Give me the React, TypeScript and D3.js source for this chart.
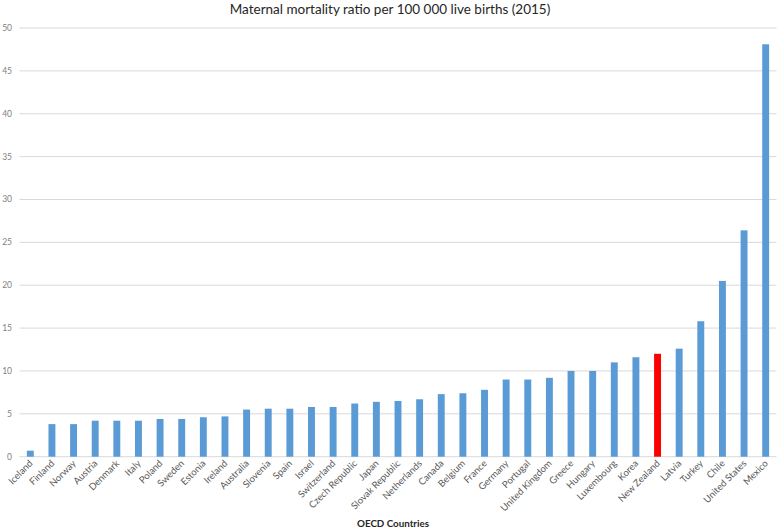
import React from "react";
import * as d3 from "d3";

const countries = ["Iceland","Finland","Norway","Austria","Denmark","Italy","Poland","Sweden","Estonia","Ireland","Australia","Slovenia","Spain","Israel","Switzerland","Czech Republic","Japan","Slovak Republic","Netherlands","Canada","Belgium","France","Germany","Portugal","United Kingdom","Greece","Hungary","Luxembourg","Korea","New Zealand","Latvia","Turkey","Chile","United States","Mexico"];
const values = [0.7,3.8,3.8,4.2,4.2,4.2,4.4,4.4,4.6,4.7,5.5,5.6,5.6,5.8,5.8,6.2,6.4,6.5,6.7,7.3,7.4,7.8,9.0,9.0,9.2,10.0,10.0,11.0,11.6,12.0,12.6,15.8,20.5,26.4,48.1];
const highlight = ["New Zealand"];
const yTicks = [0,5,10,15,20,25,30,35,40,45,50];
const title = "Maternal mortality ratio per 100 000 live births (2015)";
const xTitle = "OECD Countries";

const W = 778, H = 529;
const FONT = "Lato, 'Open Sans', sans-serif";

export default function App() {
  const x = d3.scaleBand<string>().domain(countries).range([19.5, 776.5]).paddingInner(0.68).paddingOuter(0.34);
  const y = d3.scaleLinear().domain([0, 50]).range([456.7, 28]);
  return (
    <svg width={W} height={H} style={{ position: "absolute", left: 0, top: 0, background: "#fff" }}>
      <rect x={0} y={0} width={W} height={H} fill="#fff" />
      <text x={390} y={13.5} textAnchor="middle" fontFamily={FONT} fontSize={13.5} fill="#262626">{title}</text>
      {yTicks.map(t => (
        <g key={t}>
          <line x1={19.5} x2={776.5} y1={y(t)} y2={y(t)} stroke="#d9d9d9" strokeWidth={1} />
          <text x={12} y={y(t) + 3} textAnchor="end" fontFamily={FONT} fontSize={8.5} fill="#7f7f7f">{t}</text>
        </g>
      ))}
      {countries.map((c, i) => (
        <rect key={c} x={x(c)} y={y(values[i])} width={x.bandwidth()} height={y(0) - y(values[i])}
          fill={highlight.includes(c) ? "#ff0000" : "#5b9bd5"} />
      ))}
      {countries.map(c => {
        const cx = (x(c) as number) + x.bandwidth() / 2 + 3;
        const cy = 464;
        return (
          <text key={c} transform={`translate(${cx},${cy}) rotate(-45)`} textAnchor="end"
            fontFamily={FONT} fontSize={9.5} fill="#595959">{c}</text>
        );
      })}
      <text x={393} y={527} textAnchor="middle" fontFamily={FONT} fontSize={9.8} fontWeight="bold" fill="#262626">{xTitle}</text>
    </svg>
  );
}
